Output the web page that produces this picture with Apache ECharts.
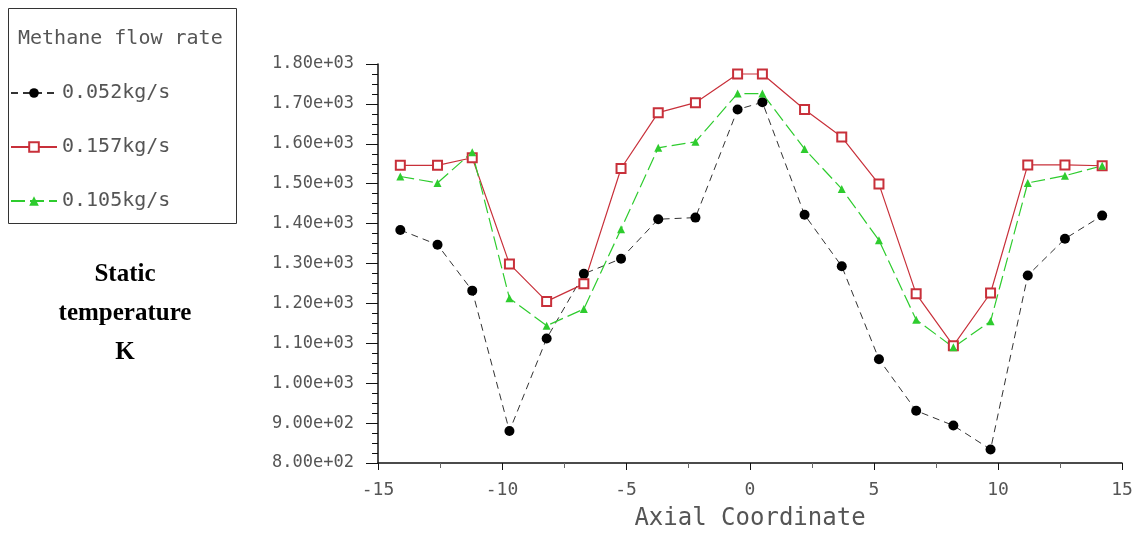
<!DOCTYPE html>
<html>
<head>
<meta charset="utf-8">
<script src="https://cdn.jsdelivr.net/npm/echarts@6/dist/echarts.min.js"></script>
<style>
html,body{margin:0;padding:0;background:#fff;}
#chart{width:1137px;height:535px;}
</style>
</head>
<body>
<div id="chart"></div>
<script>
// Data
const axialCoord = [-14.1, -12.6, -11.2, -9.7, -8.2, -6.7, -5.2, -3.7, -2.2, -0.5, 0.5, 2.2, 3.7, 5.2, 6.7, 8.2, 9.7, 11.2, 12.7, 14.2];
const seriesNames = ['0.052kg/s', '0.157kg/s', '0.105kg/s'];
const temp052 = [1384, 1347, 1232, 880, 1112, 1274, 1312, 1411, 1415, 1686, 1704, 1422, 1293, 1060, 931, 894, 834, 1270, 1362, 1420];
const temp157 = [1546, 1546, 1565, 1299, 1205, 1249, 1538, 1678, 1703, 1775, 1775, 1686, 1617, 1499, 1224, 1094, 1226, 1547, 1547, 1545];
const temp105 = [1518, 1502, 1579, 1213, 1144, 1186, 1386, 1590, 1605, 1726, 1726, 1587, 1487, 1358, 1159, 1090, 1155, 1502, 1520, 1545];
const legendTitle = 'Methane flow rate';
const sideLabel = 'Static\ntemperature\nK';
const xAxisName = 'Axial Coordinate';

function pair(ys){ return axialCoord.map((x,i)=>[x, ys[i]]); }
function fmtExp(v){
  if (v === 0) return '0.00e+00';
  const e = Math.floor(Math.log10(Math.abs(v)) + 1e-9);
  const m = v / Math.pow(10, e);
  const es = (e < 0 ? '-' : '+') + String(Math.abs(e)).padStart(2, '0');
  return m.toFixed(2) + 'e' + es;
}

const mono = 'DejaVu Sans Mono';
const chart = echarts.init(document.getElementById('chart'), null, {renderer:'canvas'});
chart.setOption({
  animation:false,
  backgroundColor:'#fff',
  grid:{left:378, right:15, top:64, bottom:72, containLabel:false, outerBoundsMode:'none'},
  legend:{
    orient:'vertical', left:5, top:78,
    itemWidth:46, itemHeight:12, itemGap:34,
    textStyle:{fontFamily:mono, fontSize:20, color:'#555'},
    data:seriesNames
  },
  graphic:[
    {type:'rect', shape:{x:8.5, y:8.5, width:228, height:215}, style:{fill:null, stroke:'#333', lineWidth:1}, silent:true},
    {type:'text', left:18, top:29, style:{text:legendTitle, font:'20px "DejaVu Sans Mono"', fill:'#555'}},
    {type:'text', x:125, y:255, style:{text:sideLabel, font:'bold 25px "Liberation Serif"', fill:'#000', align:'center', lineHeight:39}}
  ],
  xAxis:{
    type:'value', min:-15, max:15, interval:5,
    name:xAxisName, nameLocation:'middle', nameGap:44,
    nameTextStyle:{fontFamily:mono, fontSize:24, color:'#555'},
    axisLine:{show:true, onZero:false, lineStyle:{color:'#111', width:1.5}},
    axisTick:{show:true, length:7, lineStyle:{color:'#111'}},
    minorTick:{show:true, splitNumber:2, length:5, lineStyle:{color:'#666'}},
    splitLine:{show:false},
    axisLabel:{fontFamily:mono, fontSize:18, color:'#555', margin:18}
  },
  yAxis:{
    type:'value', min:800, max:1800, interval:100,
    axisLine:{show:true, onZero:false, lineStyle:{color:'#111', width:1.5}},
    axisTick:{show:true, length:12, lineStyle:{color:'#111'}},
    minorTick:{show:true, splitNumber:4, length:6, lineStyle:{color:'#111'}},
    splitLine:{show:false},
    axisLabel:{fontFamily:mono, fontSize:17, color:'#555', margin:24, formatter:fmtExp}
  },
  series:[
    {name:seriesNames[0], type:'line', data:pair(temp052), symbol:'circle', symbolSize:10,
     itemStyle:{color:'#000'}, lineStyle:{color:'#333', width:1, type:[7,5]}},
    {name:seriesNames[1], type:'line', data:pair(temp157), symbol:'emptyRect', symbolSize:9,
     itemStyle:{color:'#c8303a', borderWidth:1.2}, lineStyle:{color:'#c8303a', width:1.2}},
    {name:seriesNames[2], type:'line', data:pair(temp105), symbol:'triangle', symbolSize:8,
     itemStyle:{color:'#2ecc2e'}, lineStyle:{color:'#2ecc2e', width:1.2, type:[14,5]}}
  ]
});
</script>
</body>
</html>
